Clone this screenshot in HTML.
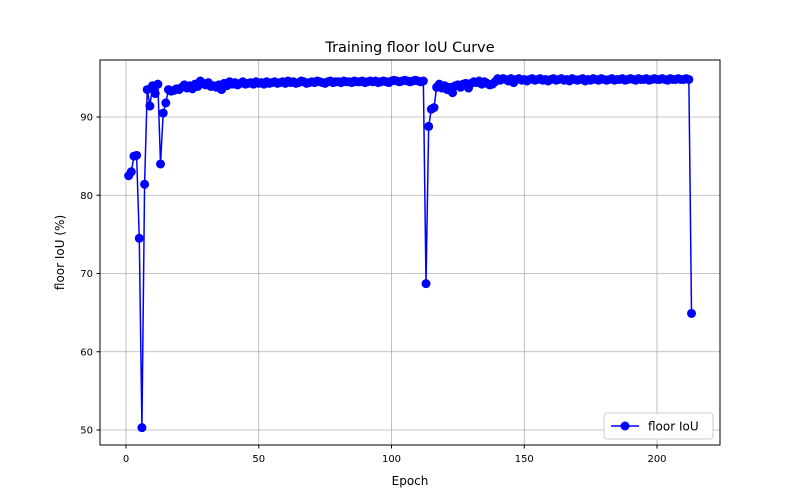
<!DOCTYPE html>
<html><head><meta charset="utf-8"><style>
body{margin:0;background:#fff;font-family:"DejaVu Sans","Liberation Sans",sans-serif}
svg text{font-family:"DejaVu Sans","Liberation Sans",sans-serif;fill:#000}
</style></head><body>
<svg id="chart" width="800" height="500">
<rect width="800" height="500" fill="#fff"/>
<g id="grid"></g>
<g id="ticks"></g>
<g id="series"></g>
<rect x="100" y="60" width="620" height="385" fill="none" stroke="#000" stroke-width="1"/>
<text x="410" y="52" font-size="14.4" text-anchor="middle">Training floor IoU Curve</text>
<text x="410" y="485" font-size="12" text-anchor="middle">Epoch</text>
<text transform="translate(64,252.5) rotate(-90)" font-size="12" text-anchor="middle">floor IoU (%)</text>
<g>
<rect x="604" y="413" width="109" height="26" rx="3" fill="#fff" stroke="#ccc"/>
<line x1="611" y1="426" x2="639" y2="426" stroke="#0000ff" stroke-width="1.5"/>
<circle cx="625" cy="426" r="4.5" fill="#0000ff"/>
<text x="648" y="430.5" font-size="12">floor IoU</text>
</g>
</svg>
<script>
const xTicks=[0,50,100,150,200];
const yTicks=[50,60,70,80,90];
const iou=[82.5,83,85,85.1,74.5,50.3,81.4,93.5,91.4,94,93,94.2,84,90.5,91.8,93.5,93.3,93.4,93.6,93.5,93.8,94.1,93.7,94,93.6,94.2,93.9,94.6,94.3,94.1,94.4,93.9,94,93.8,94.1,93.5,94.3,94,94.5,94.2,94.4,94.1,94.3,94.5,94.2,94.3,94.4,94.2,94.5,94.3,94.4,94.2,94.5,94.3,94.4,94.5,94.3,94.4,94.5,94.3,94.6,94.4,94.5,94.3,94.4,94.6,94.5,94.3,94.4,94.5,94.4,94.6,94.5,94.4,94.3,94.5,94.6,94.4,94.5,94.5,94.4,94.6,94.5,94.5,94.4,94.6,94.5,94.5,94.6,94.4,94.5,94.6,94.5,94.6,94.4,94.5,94.6,94.5,94.4,94.6,94.7,94.6,94.5,94.6,94.7,94.6,94.5,94.6,94.7,94.6,94.5,94.6,68.7,88.8,91,91.2,93.8,94.2,93.7,94,93.5,93.8,93.1,94,94.1,93.8,94.2,94.3,93.7,94.3,94.5,94.4,94.6,94.2,94.5,94.3,94.1,94.2,94.5,94.9,94.7,94.9,94.8,94.6,94.9,94.4,94.8,94.9,94.7,94.8,94.6,94.8,94.9,94.7,94.8,94.9,94.7,94.8,94.6,94.8,94.9,94.7,94.8,94.9,94.7,94.8,94.6,94.9,94.8,94.7,94.8,94.9,94.6,94.8,94.7,94.9,94.8,94.7,94.9,94.8,94.7,94.8,94.9,94.7,94.8,94.8,94.9,94.7,94.8,94.9,94.8,94.7,94.9,94.8,94.8,94.9,94.7,94.8,94.9,94.8,94.8,94.9,94.8,94.7,94.9,94.8,94.8,94.9,94.8,94.8,94.9,94.8,64.9];
const NS='http://www.w3.org/2000/svg';
const xs=v=>126+v*(657-126)/200;
const ys=v=>430-(v-50)*(430-117)/40;
function mk(t,a,p){const e=document.createElementNS(NS,t);for(const k in a)e.setAttribute(k,a[k]);p.appendChild(e);return e;}
const grid=document.getElementById('grid'),ticks=document.getElementById('ticks'),ser=document.getElementById('series');
xTicks.forEach(t=>{const x=xs(t);
const g=mk('line',{x1:x,x2:x,y1:60,y2:445,stroke:'#b0b0b0','stroke-width':0.8},grid);


mk('line',{x1:x,x2:x,y1:445,y2:448.5,stroke:'#000'},ticks);
const l=mk('text',{x:x,y:462,'font-size':10,'text-anchor':'middle'},ticks);l.textContent=t;

});
yTicks.forEach(t=>{const y=ys(t);
const g=mk('line',{x1:100,x2:720,y1:y,y2:y,stroke:'#b0b0b0','stroke-width':0.8},grid);


mk('line',{x1:96.5,x2:100,y1:y,y2:y,stroke:'#000'},ticks);
const l=mk('text',{x:93,y:y+3.5,'font-size':10,'text-anchor':'end'},ticks);l.textContent=t;

});
const pts=iou.map((v,i)=>xs(i+1)+','+ys(v)).join(' ');
const pl=mk('polyline',{points:pts,fill:'none',stroke:'#0000ff','stroke-width':1.5,'stroke-linejoin':'round'},ser);


iou.forEach((v,i)=>{const c=mk('circle',{cx:xs(i+1),cy:ys(v),r:4.5,fill:'#0000ff'},ser);

});
</script>
</body></html>
